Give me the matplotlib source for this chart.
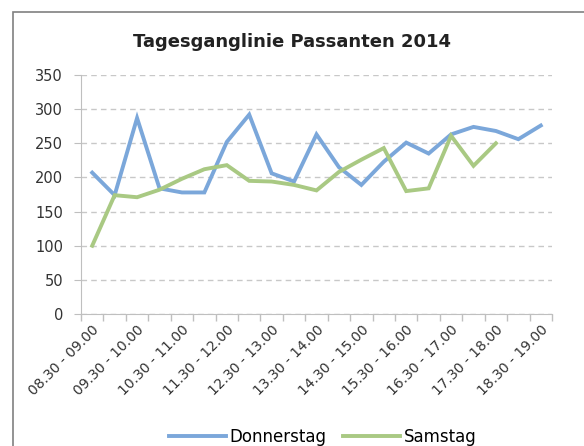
import matplotlib
matplotlib.use("Agg")
import matplotlib.pyplot as plt
from matplotlib.patches import Rectangle
import numpy as np

# half-hour intervals 08.30 - 19.00
intervals = ["08.30 - 09.00", "09.00 - 09.30", "09.30 - 10.00", "10.00 - 10.30",
             "10.30 - 11.00", "11.00 - 11.30", "11.30 - 12.00", "12.00 - 12.30",
             "12.30 - 13.00", "13.00 - 13.30", "13.30 - 14.00", "14.00 - 14.30",
             "14.30 - 15.00", "15.00 - 15.30", "15.30 - 16.00", "16.00 - 16.30",
             "16.30 - 17.00", "17.00 - 17.30", "17.30 - 18.00", "18.00 - 18.30",
             "18.30 - 19.00"]

donnerstag = [207, 174, 287, 184, 178, 178, 252, 292, 206, 194, 263,
              215, 189, 223, 251, 235, 263, 274, 268, 256, 276]
samstag = [100, 174, 171, 182, 198, 212, 218, 195, 194, 189, 181,
           208, 226, 243, 180, 184, 261, 217, 250]

blue = "#7ba7da"
green = "#a9c983"
grey = "#bfbfbf"

fig = plt.figure(figsize=(5.84, 4.46), dpi=100)
ax = fig.add_axes([81 / 584, 1 - 314 / 446, (552 - 81) / 584, (314 - 75) / 446])

ax.plot(range(len(donnerstag)), donnerstag, color=blue, lw=2.8, label="Donnerstag",
        solid_joinstyle="miter")
ax.plot(range(len(samstag)), samstag, color=green, lw=2.8, label="Samstag",
        solid_joinstyle="miter")

ax.set_ylim(0, 350)
ax.set_yticks(np.arange(0, 351, 50))
ax.set_xlim(-0.5, len(intervals) - 0.5)

ax.set_xticks(np.arange(0, len(intervals), 2))
ax.set_xticklabels(intervals[::2], rotation=45, ha="right", rotation_mode="anchor")
ax.set_xticks(np.arange(-0.5, len(intervals), 1), minor=True)
ax.tick_params(axis="x", which="major", length=0, pad=6, labelsize=10, colors="#333333")
ax.tick_params(axis="x", which="minor", length=5, color=grey, width=1)
ax.tick_params(axis="y", length=5, color=grey, labelsize=10.5, labelcolor="#333333", pad=8)

ax.yaxis.grid(True, linestyle=(0, (4, 3)), color="#c8c8c8", lw=1)
ax.set_axisbelow(True)
for side in ["top", "right"]:
    ax.spines[side].set_visible(False)
ax.spines["left"].set_color(grey)
ax.spines["bottom"].set_color(grey)

fig.text(0.5, 1 - 42 / 446, "Tagesganglinie Passanten 2014", ha="center", va="center",
         fontsize=13, fontweight="bold", color="#222222")

fig.legend(loc="center", bbox_to_anchor=(0.553, 1 - 437 / 446), ncol=2, frameon=False,
           fontsize=12, handlelength=3.4, columnspacing=1.0, handletextpad=0.25)

fig.patches.append(Rectangle((13 / 584, -0.1), 1.0, 1 - 12 / 446 + 0.1,
                             transform=fig.transFigure, fill=False,
                             edgecolor="#808080", lw=1.2))

fig.savefig("out.png", dpi=100)
